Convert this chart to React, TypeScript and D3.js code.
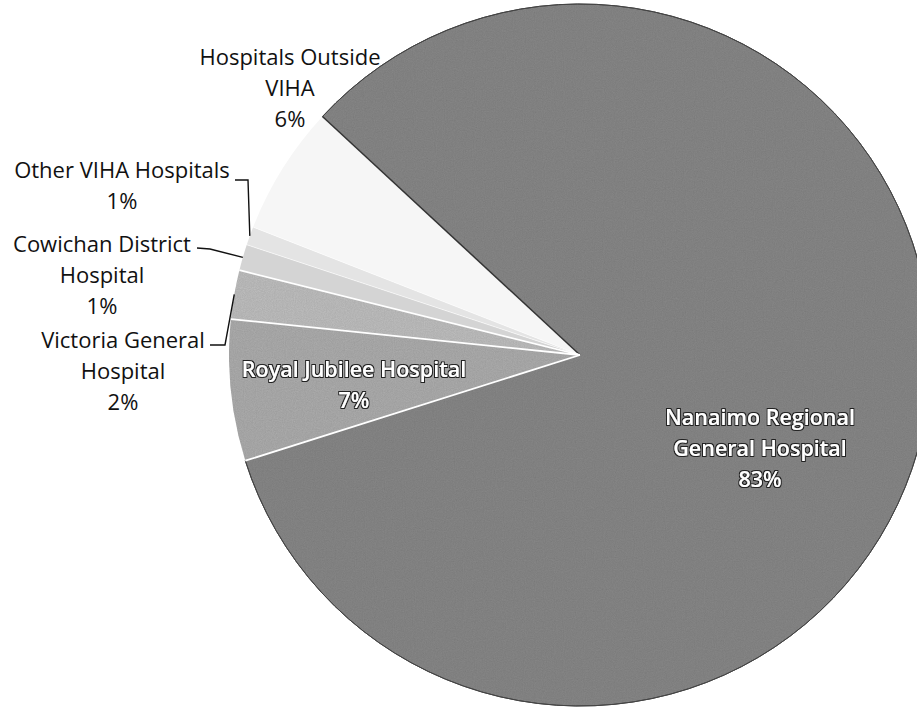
import React from "react";
import * as d3 from "d3";

const categories = [
  "Nanaimo Regional General Hospital",
  "Royal Jubilee Hospital",
  "Victoria General Hospital",
  "Cowichan District Hospital",
  "Other VIHA Hospitals",
  "Hospitals Outside VIHA",
];
const values = [83.2, 6.5, 2.25, 1.2, 0.85, 5.95];
const pctLabels = ["83%", "7%", "2%", "1%", "1%", "6%"];
const labelLines = [
  ["Nanaimo Regional", "General Hospital"],
  ["Royal Jubilee Hospital"],
  ["Victoria General", "Hospital"],
  ["Cowichan District", "Hospital"],
  ["Other VIHA Hospitals"],
  ["Hospitals Outside", "VIHA"],
];
const colors = ["#8a8a8a", "#b0b0b0", "#c2c2c2", "#d4d4d4", "#e4e4e4", "#f6f6f6"];

const W = 917, H = 708;
const cx = 580, cy = 355, R = 351;
const startDeg = 312.8;
const FONT = "'Open Sans', Lato, sans-serif";

// label layout: center x, first baseline y, inside flag, leader elbow
const labelLayout = [
  { x: 760, y: 425, inside: true },
  { x: 354, y: 377, inside: true },
  { x: 123, y: 348, inside: false, lx: 210, ly: 345, ex: 225, ey: 345 },
  { x: 102, y: 252, inside: false, lx: 197, ly: 248, ex: 210, ey: 249 },
  { x: 122, y: 178, inside: false, lx: 235, ly: 180, ex: 248, ey: 180 },
  { x: 290, y: 65, inside: false },
];

export default function App() {
  const pie = d3
    .pie<number>()
    .sort(null)
    .startAngle((startDeg * Math.PI) / 180)
    .endAngle((startDeg * Math.PI) / 180 + 2 * Math.PI);
  const arcs = pie(values);
  const arc = d3.arc<d3.PieArcDatum<number>>().innerRadius(0).outerRadius(R);
  const pt = (a: number, r: number) => [Math.sin(a) * r, -Math.cos(a) * r];
  const lineH = 31;

  return (
    <svg width={W} height={H} style={{ position: "absolute", left: 0, top: 0, background: "#fff" }}>
      <defs>
        <filter id="grain" x="-5%" y="-5%" width="110%" height="110%">
          <feTurbulence type="fractalNoise" baseFrequency="0.9" numOctaves="2" seed="3" result="n" />
          <feColorMatrix type="saturate" values="0" in="n" result="g" />
          <feComponentTransfer in="g" result="g2">
            <feFuncA type="linear" slope="0" intercept="0.3" />
          </feComponentTransfer>
          <feComposite in="g2" in2="SourceGraphic" operator="in" result="gn" />
          <feBlend in="SourceGraphic" in2="gn" mode="multiply" />
        </filter>
        <filter id="txtShadow" x="-10%" y="-30%" width="120%" height="160%">
          <feMorphology operator="dilate" radius="1.2" in="SourceAlpha" result="d" />
          <feFlood floodColor="#222" result="c" />
          <feComposite in="c" in2="d" operator="in" result="o" />
          <feMerge>
            <feMergeNode in="o" />
            <feMergeNode in="SourceGraphic" />
          </feMerge>
        </filter>
      </defs>
      <g transform={`translate(${cx},${cy})`}>
        {arcs.map((a, i) => (
          <path key={i} d={arc(a) || ""} fill={colors[i]} filter={i < 3 ? "url(#grain)" : undefined} />
        ))}
        {/* outer rim of main slice */}
        <path
          d={d3.arc<any>().innerRadius(R).outerRadius(R)({ startAngle: arcs[0].startAngle, endAngle: arcs[0].endAngle }) || ""}
          fill="none"
          stroke="#444"
          strokeWidth={1}
        />
        {/* radial separators */}
        {arcs.map((a, i) => {
          const [x, y] = pt(a.startAngle, R);
          const dark = i === 0;
          return (
            <line key={"s" + i} x1={0} y1={0} x2={x} y2={y} stroke={dark ? "#333" : "#fff"} strokeWidth={dark ? 1.5 : i >= 4 ? 0.6 : 1.8} />
          );
        })}
      </g>
      {/* labels */}
      {arcs.map((a, i) => {
        const L = labelLayout[i];
        const lines = [...labelLines[i], pctLabels[i]];
        const mid = (a.startAngle + a.endAngle) / 2;
        const [px, py] = pt(mid, R);
        return (
          <g key={"l" + i}>
            {L.lx !== undefined && (
              <polyline
                points={`${L.lx},${L.ly} ${L.ex},${L.ey} ${cx + px},${cy + py}`}
                fill="none"
                stroke="#111"
                strokeWidth={1.4}
              />
            )}
            <text
              x={L.x}
              y={L.y}
              textAnchor="middle"
              fontFamily={FONT}
              fontSize={L.inside ? 21.5 : 22}
              fontWeight={L.inside ? 600 : 400}
              fill={L.inside ? "#fff" : "#111"}
              filter={L.inside ? "url(#txtShadow)" : undefined}
            >
              {lines.map((t, j) => (
                <tspan key={j} x={L.x} y={L.y + j * lineH}>
                  {t}
                </tspan>
              ))}
            </text>
          </g>
        );
      })}
    </svg>
  );
}
